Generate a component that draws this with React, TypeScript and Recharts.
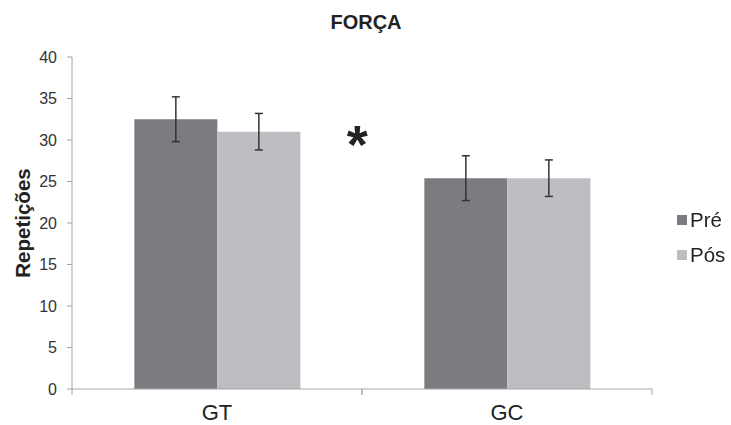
import { BarChart, Bar, XAxis, YAxis, Legend, ErrorBar, LabelList } from "recharts";

const groups = ["GT", "GC"];
const pre = [32.5, 25.4];
const pos = [31.0, 25.4];
const preErr = [2.7, 2.7];
const posErr = [2.2, 2.2];
const marks = ["*", ""];
const yTicks = [0, 5, 10, 15, 20, 25, 30, 35, 40];

const PRE_COLOR = "#7b7c80";
const POS_COLOR = "#bdbec2";
const AXIS_COLOR = "#a6a6a6";
const FONT = "'Liberation Sans', Arial, sans-serif";

const data = groups.map((g, i) => ({
  group: g,
  pre: pre[i],
  pos: pos[i],
  preErr: preErr[i],
  posErr: posErr[i],
  mark: marks[i],
}));

// category label centred, tick marks at the band edges (Excel style)
function GroupTick(props: any) {
  const { x, y, payload } = props;
  const half = payload.offset ?? 0;
  const axisY = y - 6;
  return (
    <g>
      <line x1={x - half} x2={x - half} y1={axisY} y2={axisY + 6} stroke={AXIS_COLOR} />
      <line x1={x + half} x2={x + half} y1={axisY} y2={axisY + 6} stroke={AXIS_COLOR} />
      <text x={x} y={axisY + 31} textAnchor="middle" fill="#222" fontSize={22} fontFamily={FONT}>
        {payload.value}
      </text>
    </g>
  );
}

function YTitle(props: any) {
  const { viewBox } = props;
  const cx = 22;
  const cy = viewBox.y + viewBox.height / 2;
  return (
    <text
      x={cx}
      y={cy}
      transform={`rotate(-90, ${cx}, ${cy})`}
      textAnchor="middle"
      dominantBaseline="central"
      fontSize={20.5}
      fontWeight="bold"
      fill="#222"
      fontFamily={FONT}
    >
      Repetições
    </text>
  );
}

function StarLabel(props: any) {
  const { x, y, width, value } = props;
  if (!value) return null;
  return (
    <text x={x + width + 57} y={y + 31} textAnchor="middle" fontSize={54} fontWeight="bold" fill="#222" fontFamily={FONT}>
      {value}
    </text>
  );
}

function SideLegend() {
  const items = [
    { label: "Pré", color: PRE_COLOR },
    { label: "Pós", color: POS_COLOR },
  ];
  return (
    <div style={{ fontFamily: FONT }}>
      {items.map((it) => (
        <div key={it.label} style={{ display: "flex", alignItems: "center", height: 35 }}>
          <span style={{ width: 10, height: 10, background: it.color, marginRight: 3, display: "inline-block" }} />
          <span style={{ fontSize: 20.5, color: "#222" }}>{it.label}</span>
        </div>
      ))}
    </div>
  );
}

export default function App() {
  return (
    <div style={{ position: "fixed", left: 0, top: 0, width: 731, height: 425, background: "#fff" }}>
      <div
        style={{
          position: "absolute",
          left: 0,
          width: 732,
          top: 11,
          textAlign: "center",
          fontFamily: FONT,
          fontWeight: "bold",
          fontSize: 20,
          color: "#222",
        }}
      >
        FORÇA
      </div>
      <BarChart
        width={731}
        height={425}
        data={data}
        margin={{ top: 57, right: 0, bottom: 6, left: 0 }}
        barCategoryGap="21.5%"
        barGap={0}
      >
        <XAxis
          dataKey="group"
          height={30}
          axisLine={{ stroke: AXIS_COLOR }}
          tickLine={false}
          tickSize={6}
          tickMargin={0}
          tick={<GroupTick />}
          interval={0}
        />
        <YAxis
          width={72}
          domain={[0, 40]}
          ticks={yTicks}
          axisLine={{ stroke: AXIS_COLOR }}
          tickLine={{ stroke: AXIS_COLOR }}
          tickSize={5}
          tickMargin={10}
          tick={{ fill: "#333", fontSize: 16, fontFamily: FONT }}
          label={<YTitle />}
        />
        <Legend
          layout="vertical"
          align="right"
          verticalAlign="middle"
          content={<SideLegend />}
          wrapperStyle={{ left: 677, top: 202, width: 79 }}
        />
        <Bar dataKey="pre" name="Pré" fill={PRE_COLOR} isAnimationActive={false}>
          <ErrorBar dataKey="preErr" width={4} stroke="#333" strokeWidth={1.5} />
        </Bar>
        <Bar dataKey="pos" name="Pós" fill={POS_COLOR} isAnimationActive={false}>
          <ErrorBar dataKey="posErr" width={4} stroke="#333" strokeWidth={1.5} />
          <LabelList dataKey="mark" content={<StarLabel />} />
        </Bar>
      </BarChart>
    </div>
  );
}
